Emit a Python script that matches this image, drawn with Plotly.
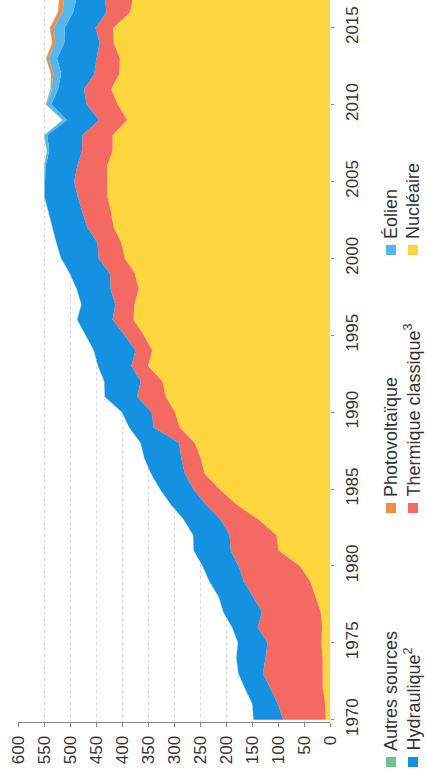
import plotly.graph_objects as go

# production d'électricité par source (TWh), 1970-2017
years = list(range(1970, 2018))

nucleaire = [8, 9, 14, 14, 14, 17, 15, 18, 28, 38,
             58, 99, 103, 137, 180, 213, 241, 249, 260, 289,
             298, 316, 322, 350, 342, 358, 378, 376, 368, 375,
             395, 401, 416, 421, 428, 429, 429, 418, 418, 390,
             408, 421, 405, 404, 416, 417, 384, 379]
thermique = [82, 91, 100, 115, 110, 103, 124, 113, 120, 128,
             118, 92, 90, 73, 59, 50, 38, 37, 30, 50,
             45, 55, 42, 32, 32, 37, 40, 37, 54, 48,
             50, 46, 51, 55, 57, 63, 57, 59, 58, 54,
             60, 52, 48, 45, 27, 34, 46, 54]
hydraulique = [57, 49, 49, 47, 56, 57, 49, 74, 66, 66,
               69, 71, 70, 71, 67, 64, 65, 71, 74, 47,
               57, 62, 70, 64, 80, 75, 68, 65, 65, 77,
               72, 79, 66, 65, 64, 56, 61, 63, 68, 62,
               68, 50, 64, 76, 68, 59, 64, 54]
eolien = [0] * 30 + [0.1, 0.1, 0.3, 0.4, 0.6, 1.0, 2.2, 4.1, 5.7, 7.9,
                     9.9, 12.1, 14.9, 16.0, 17.2, 21.1, 20.7, 24.0]
photovoltaique = [0] * 38 + [0.04, 0.2, 0.6, 2.1, 4.4, 4.7, 5.9, 7.3, 8.3, 9.2]
autres = [0.5] * 48

series = [
    ("Nucléaire", nucleaire, "#fcd63c"),
    ("Thermique classique<sup>3</sup>", thermique, "#f46a63"),
    ("Hydraulique<sup>2</sup>", hydraulique, "#1491e1"),
    ("Éolien", eolien, "#55b8ec"),
    ("Photovoltaïque", photovoltaique, "#f08d4a"),
    ("Autres sources", autres, "#6dc38f"),
]

value_ticks = list(range(0, 601, 50))
year_ticks = list(range(1970, 2016, 5))

fig = go.Figure()
for name, vals, color in series:
    fig.add_trace(go.Scatter(
        x=vals, y=years, name=name, mode="lines",
        stackgroup="one", orientation="h",
        line=dict(width=0, color=color), fillcolor=color,
        showlegend=False, hoverinfo="skip",
    ))

font = dict(family="Liberation Sans, Arial, sans-serif", color="#333333")

# plot area in pixels: x 18..330, y 0..722
L, R, T, B = 18, 330, 0, 722


def px_to_paper(px, py):
    return (px - L) / (R - L), (B - py) / (B - T)


# legend drawn by hand (rotated chart)
legend_cols = {391: ["Autres sources", "Photovoltaïque", "Éolien"],
               413: ["Hydraulique<sup>2</sup>", "Thermique classique<sup>3</sup>", "Nucléaire"]}
legend_rows = [762, 508, 250]
colors = {n: c for n, _, c in series}

shapes = []
annotations = []
for cx, names in legend_cols.items():
    for cy, name in zip(legend_rows, names):
        x0, y0 = px_to_paper(cx - 5, cy + 5)
        x1, y1 = px_to_paper(cx + 5, cy - 5)
        shapes.append(dict(type="rect", xref="paper", yref="paper",
                           x0=x0, x1=x1, y0=y0, y1=y1,
                           fillcolor=colors[name], line=dict(width=0)))
        ax, ay = px_to_paper(cx, cy - 9)
        annotations.append(dict(text=name, xref="paper", yref="paper",
                                x=ax, y=ay, xanchor="center", yanchor="bottom",
                                textangle=-90, showarrow=False,
                                font=dict(size=18, **font)))

fig.update_layout(
    width=426, height=775,
    margin=dict(l=L, r=426 - R, t=T, b=775 - B),
    paper_bgcolor="white", plot_bgcolor="white",
    shapes=shapes, annotations=annotations,
    xaxis=dict(range=[600, 0], tickvals=value_ticks, tickangle=-90,
               showgrid=True, gridcolor="#dadada", griddash="dot", gridwidth=1,
               zeroline=False, showline=True, linecolor="#888888", linewidth=1,
               ticks="outside", ticklen=4, tickcolor="#888888",
               ticklabelstandoff=2, tickfont=dict(size=17, **font)),
    yaxis=dict(range=[1969.85, 2016.8], tickvals=year_ticks, side="right",
               tickangle=-90, showgrid=False, zeroline=False, showline=False,
               ticks="outside", ticklen=3, tickcolor="#888888",
               ticklabelstandoff=4, tickfont=dict(size=17, **font)),
)

fig.write_html("out.html", config={"displayModeBar": False},
               post_script="document.body.style.margin='0';")
